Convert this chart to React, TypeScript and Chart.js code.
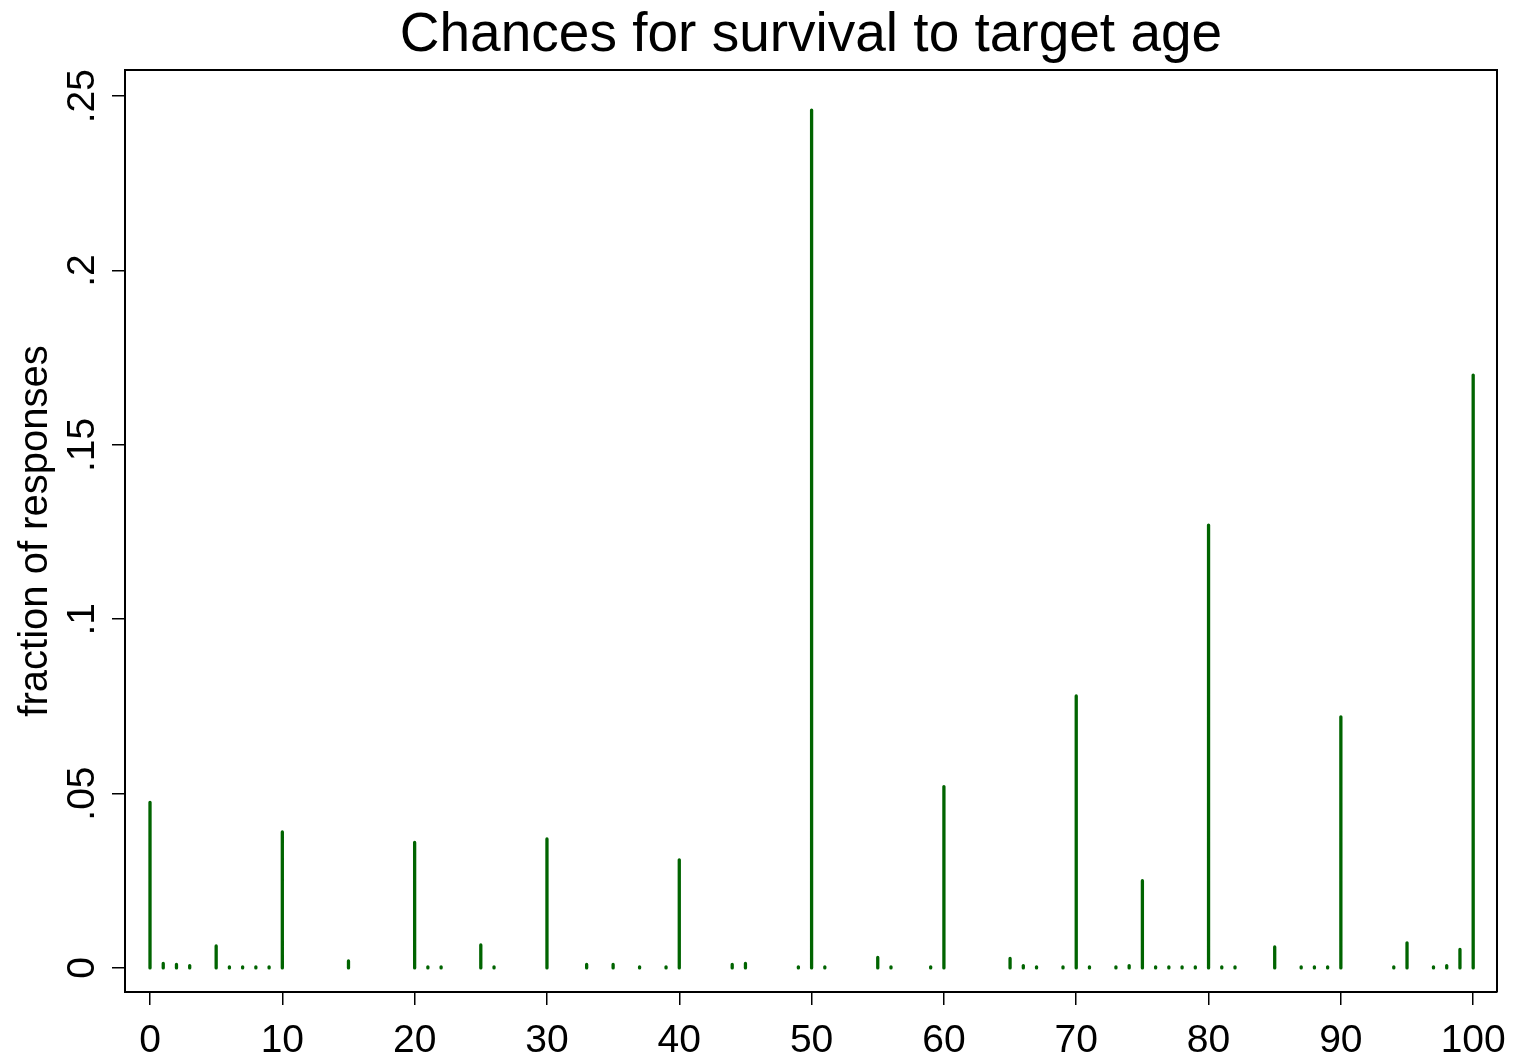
import React, { useEffect, useRef } from "react";
import { Chart, registerables } from "chart.js";

Chart.register(...registerables);

const chartTitle = "Chances for survival to target age";
const yAxisTitle = "fraction of responses";

const responseValues = [
  0, 1, 2, 3, 5, 6, 7, 8, 9, 10, 15, 20, 21, 22, 25, 26, 30, 33, 35, 37, 39, 40,
  44, 45, 49, 50, 51, 55, 56, 59, 60, 65, 66, 67, 69, 70, 71, 73, 74, 75, 76, 77,
  78, 79, 80, 81, 82, 85, 87, 88, 89, 90, 94, 95, 97, 98, 99, 100,
];
const responseFractions = [
  0.0475, 0.0013, 0.001, 0.00067, 0.0063, 0.00033, 0.00033, 0.00033, 0.00033, 0.039,
  0.002, 0.036, 0.00033, 0.00033, 0.0066, 0.00033, 0.037, 0.001, 0.001, 0.00033,
  0.00033, 0.031, 0.001, 0.0013, 0.00033, 0.246, 0.00033, 0.003, 0.00033, 0.00033,
  0.052, 0.0027, 0.00067, 0.00033, 0.00033, 0.078, 0.00033, 0.00033, 0.00067, 0.025,
  0.00033, 0.00033, 0.00033, 0.00033, 0.127, 0.00033, 0.00033, 0.006, 0.00033,
  0.00033, 0.00033, 0.072, 0.00033, 0.0072, 0.00033, 0.00067, 0.0053, 0.17,
];

const xTickValues = [0, 10, 20, 30, 40, 50, 60, 70, 80, 90, 100];
const yTickValues = [0, 0.05, 0.1, 0.15, 0.2, 0.25];
const yTickLabels = ["0", ".05", ".1", ".15", ".2", ".25"];

const FONT = "'Liberation Sans', Arial, Helvetica, sans-serif";
const SPIKE_COLOR = "rgb(0,100,0)";

export default function App() {
  const canvasRef = useRef<HTMLCanvasElement | null>(null);

  useEffect(() => {
    const canvas = canvasRef.current;
    if (!canvas) return;

    const spikeData: { x: number; y: number | null }[] = [];
    responseValues.forEach((v, i) => {
      spikeData.push({ x: v, y: 0 });
      spikeData.push({ x: v, y: responseFractions[i] });
      spikeData.push({ x: v, y: null });
    });

    const framePlugin = {
      id: "frameAndTitle",
      afterDraw(chart: any) {
        const { ctx, chartArea } = chart;
        ctx.save();
        ctx.strokeStyle = "#000";
        ctx.lineWidth = 2;
        ctx.beginPath();
        ctx.moveTo(chartArea.left, chartArea.top);
        ctx.lineTo(chartArea.right, chartArea.top);
        ctx.lineTo(chartArea.right, chartArea.bottom);
        ctx.stroke();
        ctx.fillStyle = "#000";
        ctx.font = `55px ${FONT}`;
        ctx.textAlign = "center";
        ctx.textBaseline = "middle";
        ctx.fillText(chartTitle, (chartArea.left + chartArea.right) / 2, 36);
        ctx.restore();
      },
    };

    const chart = new Chart(canvas, {
      type: "scatter",
      data: {
        datasets: [
          {
            data: spikeData as any,
            showLine: true,
            spanGaps: false,
            borderColor: SPIKE_COLOR,
            borderWidth: 3.3,
            borderCapStyle: "round",
            pointRadius: 0,
            pointHoverRadius: 0,
          },
        ],
      },
      options: {
        animation: false,
        responsive: false,
        devicePixelRatio: 1,
        layout: { padding: { top: 70, right: 17, left: 0, bottom: 0 } },
        plugins: {
          legend: { display: false },
          tooltip: { enabled: false },
          title: { display: false },
        },
        scales: {
          x: {
            type: "linear",
            min: -1.89,
            max: 101.8,
            afterBuildTicks: (scale: any) => {
              scale.ticks = xTickValues.map((v) => ({ value: v }));
            },
            afterFit: (scale: any) => {
              scale.height = 68;
              scale.paddingLeft = 0;
              scale.paddingRight = 0;
            },
            grid: {
              drawOnChartArea: false,
              drawTicks: true,
              tickLength: 13,
              color: "#000",
              lineWidth: 1.5,
            },
            border: { display: true, color: "#000", width: 2 },
            ticks: {
              color: "#000",
              font: { family: FONT, size: 39 },
              padding: 13,
              maxRotation: 0,
              minRotation: 0,
              autoSkip: false,
            },
          },
          y: {
            type: "linear",
            min: -0.0069,
            max: 0.2575,
            afterBuildTicks: (scale: any) => {
              scale.ticks = yTickValues.map((v) => ({ value: v }));
            },
            afterFit: (scale: any) => {
              scale.width = 125;
              scale.paddingTop = 0;
              scale.paddingBottom = 0;
            },
            grid: {
              drawOnChartArea: false,
              drawTicks: true,
              tickLength: 13,
              color: "#000",
              lineWidth: 1.5,
            },
            border: { display: true, color: "#000", width: 2 },
            ticks: {
              color: "#000",
              font: { family: FONT, size: 39 },
              padding: 2,
              minRotation: 90,
              maxRotation: 90,
              crossAlign: "center",
              autoSkip: false,
              callback: (_v: any, i: number) => yTickLabels[i],
            },
            title: {
              display: true,
              text: yAxisTitle,
              color: "#000",
              font: { family: FONT, size: 40 },
              padding: { top: 12, bottom: 0 },
            },
          },
        },
      },
      plugins: [framePlugin],
    });

    return () => chart.destroy();
  }, []);

  return (
    <div style={{ position: "fixed", left: 0, top: 0, width: 1514, height: 1060, background: "#fff" }}>
      <canvas ref={canvasRef} width={1514} height={1060} style={{ display: "block" }} />
    </div>
  );
}
